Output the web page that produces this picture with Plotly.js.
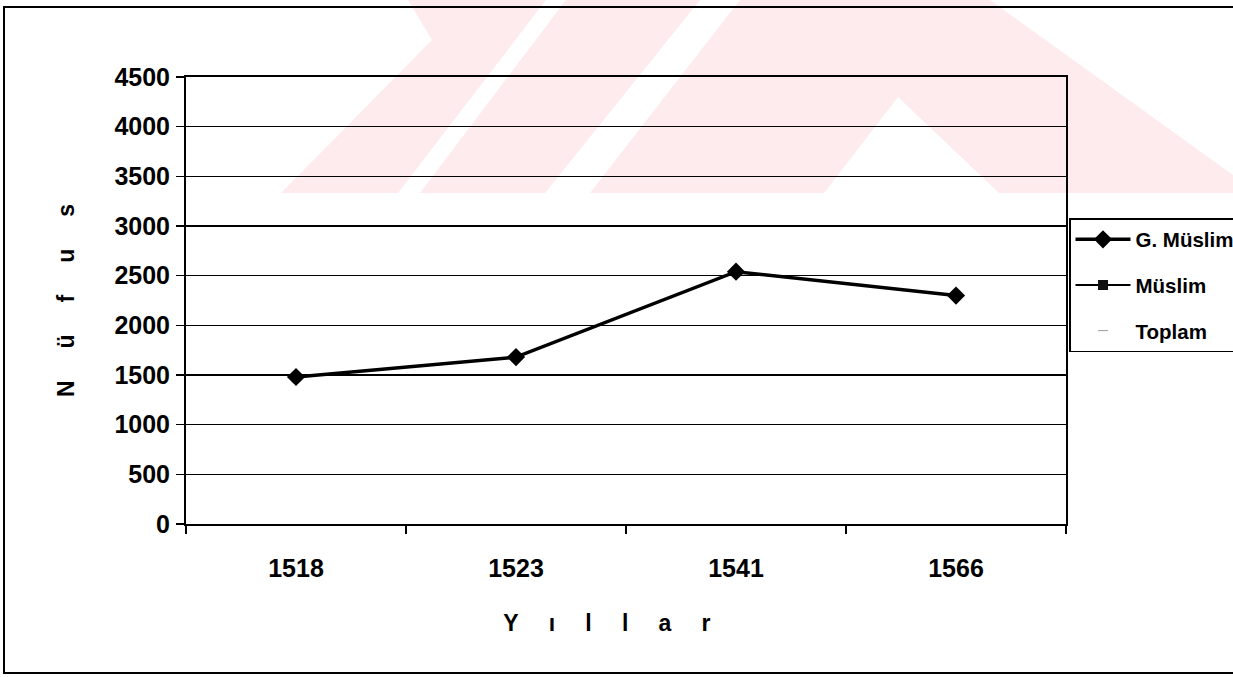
<!DOCTYPE html>
<html>
<head>
<meta charset="utf-8">
<script src="https://cdn.plot.ly/plotly-3.0.1.min.js"></script>
<style>
html,body{margin:0;padding:0;background:#fff;}
#chart{width:1233px;height:677px;}
</style>
</head>
<body>
<div id="chart"></div>
<script>
// ---- data ----
const years = ["1518", "1523", "1541", "1566"];
const gMuslim = [1480, 1680, 2540, 2300];
const muslim = [null, null, null, null];
const toplam = [null, null, null, null];
const yTicks = [0, 500, 1000, 1500, 2000, 2500, 3000, 3500, 4000, 4500];

// ---- layout geometry (pixels) ----
const W = 1233, H = 677;
const L = 186, R = 1066, T = 77, B = 524;
const px2x = p => (p - L) / (R - L);
const px2y = p => (B - p) / (B - T);
function poly(pts) {
  return pts.map((p, i) => (i ? "L" : "M") + px2x(p[0]).toFixed(4) + "," + px2y(p[1]).toFixed(4)).join(" ") + " Z";
}
const pink = "#fdebee";
const wm = [
  [[281,193],[398,193],[546,0],[408,0],[432,40]],
  [[420,193],[545,193],[700,0],[566,0]],
  [[590,193],[824,193],[898,97],[999,193],[1233,193],[1233,175],[990,0],[740,0]]
];
const shapes = wm.map(p => ({
  type: "path", xref: "paper", yref: "paper", layer: "below",
  path: poly(p), fillcolor: pink, line: {width: 0}
}));
// outer frame
shapes.push({
  type: "rect", xref: "paper", yref: "paper", layer: "above",
  x0: px2x(4), x1: px2x(1245), y0: px2y(673), y1: px2y(7),
  line: {color: "#000", width: 2}, fillcolor: "rgba(0,0,0,0)"
});

const font = "Liberation Sans, Arial, sans-serif";
const nb = "\u00A0";
const zw = "\u200B";
const rep = n => nb.repeat(n);
const spY = rep(5), spX = rep(4) + "\u2009";

const traces = [
  {
    x: years, y: gMuslim, name: "G. Müslim", type: "scatter", mode: "lines+markers",
    line: {color: "#000", width: 3.5},
    marker: {symbol: "diamond", size: 14, color: "#000"},
    legendgroup: "a"
  },
  {
    x: years, y: muslim, name: "Müslim", type: "scatter", mode: "lines+markers",
    line: {color: "#000", width: 2},
    marker: {symbol: "square", size: 10, color: "#111"},
    legendgroup: "b"
  },
  {
    x: years, y: toplam, name: "Toplam", type: "scatter", mode: "markers",
    marker: {symbol: "line-ew", size: 7, color: "#999", line: {color: "#999", width: 1}},
    legendgroup: "c"
  }
];

const layout = {
  width: W, height: H,
  margin: {l: L, r: W - R, t: T, b: H - B, pad: 0, autoexpand: false},
  paper_bgcolor: "#fff",
  plot_bgcolor: "rgba(0,0,0,0)",
  font: {family: font, color: "#000"},
  showlegend: true,
  legend: {
    x: px2x(1069), xanchor: "left", y: px2y(218), yanchor: "top",
    bordercolor: "#000", borderwidth: 1.5, bgcolor: "rgba(255,255,255,0)",
    font: {family: font, size: 20.5, color: "#000", weight: "bold"},
    traceorder: "grouped", tracegroupgap: 16, itemwidth: 55,
    entrywidth: 200
  },
  xaxis: {
    type: "category",
    categoryorder: "array", categoryarray: years,
    range: [-0.5, 3.5], autorange: false,
    showline: true, linecolor: "#000", linewidth: 2, mirror: true,
    ticks: "outside", ticklen: 8, tickwidth: 1.5, tickcolor: "#000",
    tickson: "boundaries",
    showgrid: false, zeroline: false,
    tickfont: {family: font, size: 25, color: "#000", weight: "bold"},
    ticklabelstandoff: 21,
    title: {text: "Y" + spX + "ı" + spX + "l" + spX + "l" + spX + "a" + spX + "r" + rep(6) + zw,
            font: {family: font, size: 23, color: "#000", weight: "bold"}, standoff: 34}
  },
  yaxis: {
    range: [0, 4500], tickvals: yTicks, ticktext: yTicks.map(String),
    showline: true, linecolor: "#000", linewidth: 2, mirror: true,
    ticks: "outside", ticklen: 8, tickwidth: 1.5, tickcolor: "#000",
    showgrid: true, gridcolor: "#000", gridwidth: 1.3,
    zeroline: false,
    tickfont: {family: font, size: 25, color: "#000", weight: "bold"},
    ticklabelstandoff: 1,
    title: {text: "N" + spY + "ü" + spY + "f" + spY + "u" + spY + "s",
            font: {family: font, size: 23, color: "#000", weight: "bold"}, standoff: 33}
  },
  shapes: shapes
};

Plotly.newPlot("chart", traces, layout, {displayModeBar: false, staticPlot: true});
</script>
</body>
</html>
